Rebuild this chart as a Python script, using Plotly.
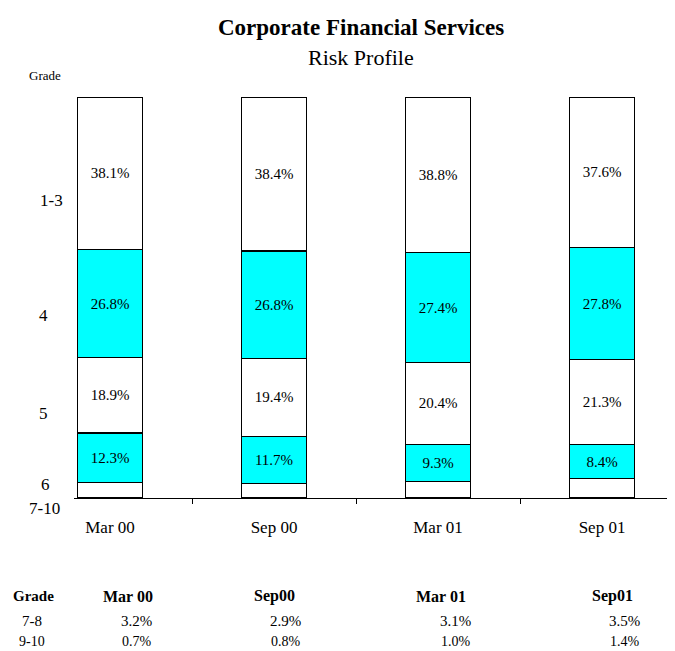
import plotly.graph_objects as go

periods = ["Mar 00", "Sep 00", "Mar 01", "Sep 01"]
table_heads = ["Mar 00", "Sep00", "Mar 01", "Sep01"]

g1_3 = [38.1, 38.4, 38.8, 37.6]
g4 = [26.8, 26.8, 27.4, 27.8]
g5 = [18.9, 19.4, 20.4, 21.3]
g6 = [12.3, 11.7, 9.3, 8.4]
g7_8 = [3.2, 2.9, 3.1, 3.5]
g9_10 = [0.7, 0.8, 1.0, 1.4]
g7_10 = [a + b for a, b in zip(g7_8, g9_10)]

# page has an 8px body margin, so the figure is drawn a bit smaller
OFF = 8
W, H = 675 - OFF, 651 - OFF
L, R, T, B = 74 - OFF, 0, 97 - OFF, 153
FONT = "Liberation Serif, Times New Roman, serif"
CYAN = "#00FFFF"


def px(x):
    return (x - OFF - L) / (W - L - R)


def py(y):
    return (H - B - (y - OFF)) / (H - T - B)


fig = go.Figure()

segments = [
    (g7_10, "white", False),
    (g6, CYAN, True),
    (g5, "white", True),
    (g4, CYAN, True),
    (g1_3, "white", True),
]
for vals, col, lab in segments:
    fig.add_trace(go.Bar(
        x=periods, y=vals,
        marker=dict(color=col, line=dict(color="black", width=1.3)),
        width=0.4,
        text=[f"{v:.1f}%" for v in vals] if lab else None,
        textposition="inside" if lab else "none",
        insidetextanchor="middle",
        textangle=0,
        textfont=dict(family=FONT, size=15, color="black"),
        hoverinfo="skip",
    ))

ann = []
# title
ann.append(dict(x=px(361), y=py(27), text="<b>Corporate Financial Services</b>",
                font=dict(size=23)))
ann.append(dict(x=px(361), y=py(57), text="Risk Profile", font=dict(size=22)))

# grade labels on the left
ann.append(dict(x=px(45), y=py(75), text="Grade", font=dict(size=13)))
for lbl, xx, yy in [("1-3", 51, 200), ("4", 43, 315), ("5", 43, 413),
                    ("6", 45, 484), ("7-10", 44, 508)]:
    ann.append(dict(x=px(xx), y=py(yy), text=lbl, font=dict(size=17)))

# small table at the bottom
ann.append(dict(x=px(33), y=py(596), text="<b>Grade</b>", font=dict(size=15)))
ann.append(dict(x=px(32), y=py(621), text="7-8", font=dict(size=15)))
ann.append(dict(x=px(32), y=py(641), text="9-10", font=dict(size=14)))
head_right = [155, 297, 468, 635]
val_right = [154, 303, 473, 642]
for i, h in enumerate(table_heads):
    ann.append(dict(x=px(head_right[i]), y=py(596), text=f"<b>{h}</b>",
                    xanchor="right", font=dict(size=16)))
    ann.append(dict(x=px(val_right[i]), y=py(621), text=f"{g7_8[i]:.1f}%",
                    xanchor="right", font=dict(size=15)))
    ann.append(dict(x=px(val_right[i]), y=py(641), text=f"{g9_10[i]:.1f}%",
                    xanchor="right", font=dict(size=14)))

for a in ann:
    a.setdefault("xanchor", "center")
    a.update(xref="paper", yref="paper", yanchor="middle", showarrow=False)
    a["font"] = dict(family=FONT, color="black", **a["font"])

fig.update_layout(
    width=W, height=H,
    margin=dict(l=L, r=R, t=T, b=B),
    barmode="stack",
    showlegend=False,
    paper_bgcolor="white",
    plot_bgcolor="white",
    font=dict(family=FONT, color="black"),
    annotations=ann,
)
fig.update_xaxes(
    range=[-0.2195, 3.445],
    showline=True, linecolor="black", linewidth=1,
    ticks="outside", tickson="boundaries", ticklen=5, tickcolor="black",
    ticklabelstandoff=14,
    tickfont=dict(family=FONT, size=17, color="black"),
    showgrid=False, zeroline=False,
)
fig.update_yaxes(range=[0, 100], visible=False)

fig.write_html("out.html")
